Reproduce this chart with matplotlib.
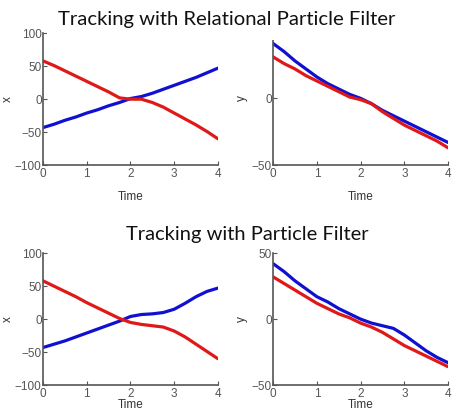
import numpy as np
import matplotlib
matplotlib.use("Agg")
import matplotlib.pyplot as plt

# time samples
t = [0, 0.25, 0.5, 0.75, 1, 1.25, 1.5, 1.75, 2, 2.25, 2.5, 2.75, 3, 3.25, 3.5, 3.75, 4]

# relational particle filter
rel_x_blue = [-43, -38, -32, -27, -21, -16, -10, -5, 1, 4, 9, 15, 21, 27, 33, 40, 47]
rel_x_red = [58, 51, 43, 35, 27, 19, 11, 2, 0, 0, -5, -12, -21, -30, -39, -49, -60]
rel_y_blue = [41, 35, 28, 22, 16, 11, 7, 3, 0, -4, -9, -13, -17, -21, -25, -29, -33]
rel_y_red = [31, 26, 22, 17, 13, 9, 5, 1, -1, -4, -10, -15, -20, -24, -28, -32, -37]

# plain particle filter
pf_x_blue = [-43, -38, -33, -27, -21, -15, -9, -3, 4, 7, 8, 10, 15, 24, 34, 42, 47]
pf_x_red = [58, 50, 42, 34, 25, 17, 9, 1, -5, -8, -10, -12, -18, -27, -38, -49, -60]
pf_y_blue = [42, 36, 29, 23, 17, 13, 8, 4, 0, -3, -5, -7, -12, -18, -24, -29, -33]
pf_y_red = [32, 27, 22, 17, 12, 8, 4, 1, -3, -6, -10, -15, -20, -24, -28, -32, -36]

plt.rcParams['font.family'] = ['Liberation Sans', 'DejaVu Sans']

fig = plt.figure(figsize=(4.53, 4.15), dpi=100)
fig.patch.set_facecolor('white')

gray = '#555555'


def setup(ax, ylim, yticks, ylabel, labelpad, ylab_x):
    ax.set_xlim(0, 4)
    ax.set_ylim(*ylim)
    ax.set_xticks([0, 1, 2, 3, 4])
    ax.set_yticks(yticks)
    for s in ['top', 'right']:
        ax.spines[s].set_visible(False)
    for s in ['left', 'bottom']:
        ax.spines[s].set_color(gray)
        ax.spines[s].set_linewidth(1.2)
    ax.tick_params(direction='in', length=3, colors=gray, labelsize=8.5, pad=1)
    ax.tick_params(axis='x', pad=2)
    ax.set_xlabel('Time', fontsize=8.5, color='#333333', labelpad=labelpad)
    ax.set_ylabel(ylabel, fontsize=8.5, color='#333333', rotation=90)
    ax.yaxis.set_label_coords(ylab_x, 0.5)


axes_info = [
    ([0.095, 0.602, 0.386, 0.318], rel_x_blue, rel_x_red, (-100, 100), [-100, -50, 0, 50, 100], 'x', 8, -0.166),
    ([0.603, 0.602, 0.386, 0.322], rel_y_blue, rel_y_red, (-50, 50), [-50, 0, 50], 'y', 8, -0.143),
    ([0.095, 0.072, 0.386, 0.318], pf_x_blue, pf_x_red, (-100, 100), [-100, -50, 0, 50, 100], 'x', -1, -0.166),
    ([0.603, 0.072, 0.386, 0.318], pf_y_blue, pf_y_red, (-50, 50), [-50, 0, 50], 'y', -1, -0.143),
]

for rect, blue, red, ylim, yticks, ylabel, lp, lx in axes_info:
    ax = fig.add_axes(rect)
    ax.plot(t, blue, color='#1010d0', lw=2.3, solid_capstyle='round')
    ax.plot(t, red, color='#e01818', lw=2.3, solid_capstyle='round')
    setup(ax, ylim, yticks, ylabel, lp, lx)

# the top title sits over the top of the right-hand panel, as in the slide
fig.text(0.501, 0.952, 'Tracking with Relational Particle Filter', ha='center', va='center',
         fontsize=14.6, family=['Lato', 'DejaVu Sans'], color='#111111',
         bbox=dict(facecolor='white', edgecolor='none', pad=8), zorder=10)
fig.text(0.545, 0.434, 'Tracking with Particle Filter', ha='center', va='center',
         fontsize=14.5, family=['Lato', 'DejaVu Sans'], color='#111111', zorder=10)

fig.savefig('out.png', dpi=100)
